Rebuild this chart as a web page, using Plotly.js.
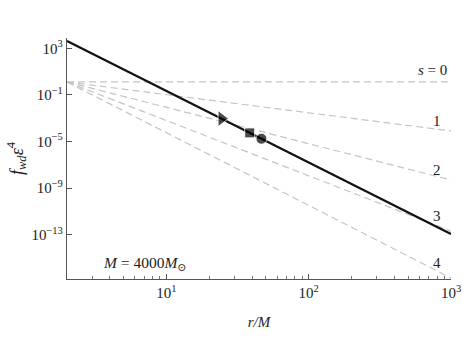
<!DOCTYPE html>
<html>
<head>
<meta charset="utf-8">
<script src="https://cdn.plot.ly/plotly-3.0.1.min.js"></script>
<style>
  html, body { margin: 0; padding: 0; background: #fff; }
  #chart { width: 463px; height: 348px; }
</style>
</head>
<body>
<div id="chart"></div>
<script>
// main curve (r/M vs f_wd eps^4), straight in log-log
const mainR = [2, 1000];
const mainF = [4.4e3, 1.12e-13];

// dashed curves for s = 0..4 (start / end values)
const sLabels = ["s = 0", "1", "2", "3", "4"];
const sR = [2, 1000];
const sF = [
  [1.32, 1.32],
  [1.32, 8.1e-5],
  [1.32, 4.9e-9],
  [1.32, 2.0e-13],
  [1.32, 1.86e-17],
];

// markers on the main curve
const markR = [24.4, 38.5, 46.5];
const markF = [9.3e-4, 5.5e-5, 1.74e-5];
const markSymbols = ["triangle-right", "square", "circle"];

// tick labels
const yTickVals = [1e3, 1e-1, 1e-5, 1e-9, 1e-13];
const yTickText = ["10<sup>3</sup>", "10<sup>\u22121</sup>", "10<sup>\u22125</sup>", "10<sup>\u22129</sup>", "10<sup>\u221213</sup>"];
const xTickVals = [10, 100, 1000];
const xTickText = ["10<sup>1</sup>", "10<sup>2</sup>", "10<sup>3</sup>"];

const serif = "'Liberation Serif', 'DejaVu Serif', serif";

const traces = [];

// dashed gray family
sF.forEach((f) => {
  traces.push({
    x: sR,
    y: f,
    type: "scatter",
    mode: "lines",
    line: { color: "#c4c4c4", width: 1.2, dash: "7px,4px" },
    hoverinfo: "skip",
    showlegend: false,
  });
});

// main black line
traces.push({
  x: mainR,
  y: mainF,
  type: "scatter",
  mode: "lines",
  line: { color: "#111", width: 2.2 },
  showlegend: false,
});

// markers
traces.push({
  x: markR,
  y: markF,
  type: "scatter",
  mode: "markers",
  marker: { color: "#000", size: [14, 10, 11], symbol: markSymbols },
  showlegend: false,
});

// s labels next to the dashed lines
const labelY = [0.867, 0.656, 0.452, 0.261, 0.066];
const annotations = sLabels.map((t, i) => ({
  text: i === 0 ? "<i>s</i> = 0" : t,
  xref: "paper",
  yref: "paper",
  x: i === 0 ? 0.953 : 0.964,
  y: labelY[i],
  xanchor: "center",
  yanchor: "middle",
  showarrow: false,
  font: { family: serif, size: 15, color: "#222" },
}));

annotations.push({
  text: "<i>M</i> = 4000<i>M</i><sub>\u2299</sub>",
  xref: "paper",
  yref: "paper",
  x: 0.203,
  y: 0.066,
  xanchor: "center",
  yanchor: "middle",
  showarrow: false,
  font: { family: serif, size: 15.5, color: "#222" },
});

var layout = {
  width: 463,
  height: 348,
  margin: { l: 67, r: 12, t: 38, b: 69 },
  paper_bgcolor: "#fff",
  plot_bgcolor: "#fff",
  font: { family: serif, size: 13, color: "#222" },
  showlegend: false,
  xaxis: {
    type: "log",
    range: [Math.log10(2), 3],
    showgrid: false,
    zeroline: false,
    showline: true,
    linecolor: "#555",
    linewidth: 1.2,
    ticks: "inside",
    ticklen: 5,
    tickcolor: "#555",
    tickvals: xTickVals,
    ticktext: xTickText,
    tickfont: { family: serif, size: 15, color: "#222" },
    minor: { ticks: "inside", ticklen: 3, tickcolor: "#777", dtick: "D1", showgrid: false },
    title: { text: "<i>r/M</i>", font: { family: serif, size: 15, color: "#222" }, standoff: 16 },
  },
  yaxis: {
    type: "log",
    range: [-16.82, 3.9],
    showgrid: false,
    zeroline: false,
    showline: true,
    linecolor: "#555",
    linewidth: 1.2,
    ticks: "inside",
    ticklen: 5,
    tickcolor: "#555",
    tickvals: yTickVals,
    ticktext: yTickText,
    tickfont: { family: serif, size: 15, color: "#222" },
    title: { text: "<i>f<sub>wd</sub>\u03b5</i><sup>4</sup>", font: { family: serif, size: 18, color: "#222" }, standoff: 3 },
  },
  annotations: annotations,
};

Plotly.newPlot("chart", traces, layout, { staticPlot: true });
</script>
</body>
</html>
